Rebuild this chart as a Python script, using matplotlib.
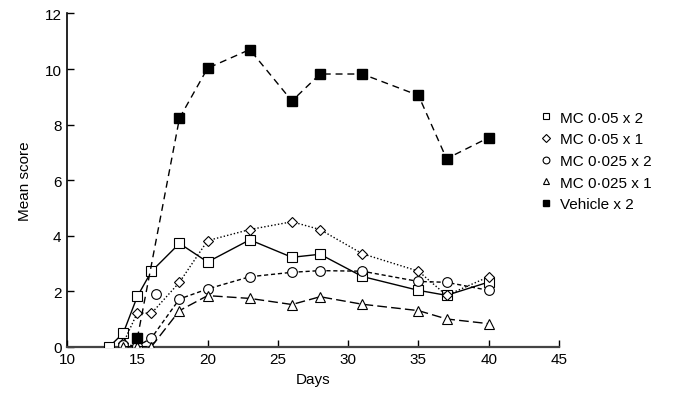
"""Mean score over days for MC dose groups versus vehicle."""

import matplotlib.pyplot as plt

plt.rcParams["font.family"] = ["Liberation Sans", "DejaVu Sans"]

# data
days_sq2 = [13, 14, 15, 16, 18, 20, 23, 26, 28, 31, 35, 37, 40]
mc005x2 = [0.0, 0.49, 1.81, 2.71, 3.72, 3.05, 3.85, 3.22, 3.33, 2.53, 2.03, 1.85, 2.33]

days_di1 = [14, 15, 16, 18, 20, 23, 26, 28, 31, 35, 37, 40]
mc005x1 = [0.13, 1.22, 1.2, 2.32, 3.82, 4.22, 4.5, 4.22, 3.35, 2.72, 1.85, 2.52]

days_ci2 = [14, 15, 16, 18, 20, 23, 26, 28, 31, 35, 37, 40]
mc0025x2 = [0.08, 0.02, 0.31, 1.72, 2.08, 2.52, 2.68, 2.74, 2.72, 2.35, 2.32, 2.03]
stray_day = [16.3]
stray_val = [1.9]

days_tr1 = [14, 15, 16, 18, 20, 23, 26, 28, 31, 35, 37, 40]
mc0025x1 = [0.0, 0.0, 0.0, 1.3, 1.84, 1.74, 1.52, 1.8, 1.53, 1.3, 1.0, 0.83]

days_veh = [15, 18, 20, 23, 26, 28, 31, 35, 37, 40]
vehicle = [0.3, 8.23, 10.03, 10.7, 8.85, 9.82, 9.82, 9.05, 6.77, 7.53]

fig = plt.figure(figsize=(6.91, 4.02), dpi=100)
ax = fig.add_axes([0.097, 0.135, 0.712, 0.829])

ms = 6.5
lw = 1.0
ax.plot(days_sq2, mc005x2, "-", color="black", lw=lw, marker="s", ms=ms,
        mfc="white", mec="black", mew=0.8, label="MC 0·05 x 2", zorder=3)
ax.plot(days_di1, mc005x1, color="black", lw=lw, ls=(0, (1, 1.5)), marker="D",
        ms=ms - 1, mfc="white", mec="black", mew=0.8, label="MC 0·05 x 1",
        zorder=3)
ax.plot(days_ci2, mc0025x2, color="black", lw=lw, ls=(0, (3, 2)), marker="o",
        ms=ms + 0.5, mfc="white", mec="black", mew=0.8, label="MC 0·025 x 2",
        zorder=3)
ax.plot(stray_day, stray_val, ls="none", marker="o", ms=ms + 0.5, mfc="white",
        mec="black", mew=0.8, zorder=3)
ax.plot(days_tr1, mc0025x1, color="black", lw=lw, ls=(0, (7, 3)), marker="^",
        ms=ms, mfc="white", mec="black", mew=0.8, label="MC 0·025 x 1",
        zorder=3)
ax.plot(days_veh, vehicle, color="black", lw=lw, ls=(0, (5, 3.5)), marker="s",
        ms=ms, mfc="black", mec="black", label="Vehicle x 2", zorder=4)

ax.set_xlim(10, 45)
ax.set_ylim(0, 12)
ax.set_xticks(range(10, 46, 5))
ax.set_yticks(range(0, 13, 2))
ax.set_xlabel("Days", fontsize=11, labelpad=4)
ax.set_ylabel("Mean score", fontsize=11, labelpad=9)
ax.tick_params(direction="in", length=5, width=1, labelsize=11, pad=4)
for side in ("top", "right"):
    ax.spines[side].set_visible(False)
ax.spines["left"].set_linewidth(1.2)
ax.spines["bottom"].set_linewidth(1.6)
ax.spines["bottom"].set_color("#444444")

ax.legend(loc="upper left", bbox_to_anchor=(0.952, 0.74), frameon=False,
          fontsize=11, handlelength=0.0, handletextpad=0.9, markerscale=0.7,
          labelspacing=0.5, borderpad=0.2)

fig.savefig("out.png", dpi=100)
